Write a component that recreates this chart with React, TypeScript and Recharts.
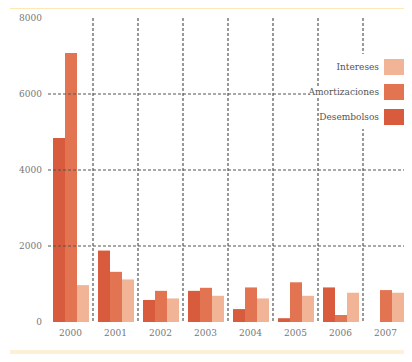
import React from "react";
import { BarChart, Bar, XAxis, YAxis, CartesianGrid, ReferenceLine } from "recharts";

const years = ["2000", "2001", "2002", "2003", "2004", "2005", "2006", "2007"];
const desembolsos = [4840, 1880, 580, 820, 340, 100, 910, 0];
const amortizaciones = [7080, 1320, 820, 900, 910, 1045, 185, 840];
const intereses = [970, 1120, 620, 690, 620, 690, 770, 770];
const yTicks = [0, 2000, 4000, 6000, 8000];
const gridValues = [2000, 4000, 6000];
const seriesNames = ["Desembolsos", "Amortizaciones", "Intereses"];
const seriesColors = ["#d95b3e", "#e37452", "#f1b496"];

const data = years.map((y, i) => ({
  year: y,
  Desembolsos: desembolsos[i],
  Amortizaciones: amortizaciones[i],
  Intereses: intereses[i],
}));

const FONT = "'DejaVu Serif', 'Liberation Serif', serif";

export default function App() {
  const legendItems = seriesNames.map((n, i) => ({ name: n, color: seriesColors[i] })).reverse();
  return (
    <div style={{ position: "relative", width: 412, height: 362, margin: -8, background: "#fff", overflow: "hidden" }}>
      <div style={{ position: "absolute", left: 10, top: 0, width: 402, height: 6, background: "#fdd784" }} />
      <div style={{ position: "absolute", left: 10, top: 6, width: 402, height: 3, background: "#fde8b6" }} />
      <div style={{ position: "absolute", left: 408, top: 9, width: 4, height: 353, background: "#fdf0d6" }} />
      <div style={{ position: "absolute", left: 10, top: 350, width: 402, height: 12, background: "#fdf0d6" }} />
      <div style={{ position: "absolute", left: 0, top: 0 }}>
        <BarChart
          width={412}
          height={362}
          data={data}
          margin={{ top: 18, right: 4, left: 0, bottom: 10 }}
          barCategoryGap={5}
          barGap={0}
        >
          <CartesianGrid
            horizontal={false}
            vertical={true}
            stroke="#555"
            strokeWidth={1.2}
            strokeDasharray="3 2"
            verticalCoordinatesGenerator={({ offset }: any) =>
              years.slice(1).map((_, i) => offset.left + (offset.width * (i + 1)) / years.length)
            }
          />
          {gridValues.map((v) => (
            <ReferenceLine key={v} y={v} stroke="#555" strokeWidth={1.2} strokeDasharray="3 2" />
          ))}
          <XAxis
            dataKey="year"
            axisLine={false}
            tickLine={false}
            tick={{ fontSize: 9, fill: "#777", fontFamily: FONT }}
          />
          <YAxis
            width={48}
            domain={[0, 8000]}
            ticks={yTicks}
            axisLine={false}
            tickLine={false}
            tickMargin={0}
            tick={{ fontSize: 9, fill: "#777", fontFamily: FONT }}
          />
          {seriesNames.map((n, i) => (
            <Bar key={n} dataKey={n} fill={seriesColors[i]} isAnimationActive={false} />
          ))}
        </BarChart>
      </div>
      <div style={{ position: "absolute", left: 328, top: 54, width: 78, background: "#fff", padding: "0" }}>
        {legendItems.map((it) => (
          <div
            key={it.name}
            style={{ display: "flex", alignItems: "center", justifyContent: "flex-end", height: 25 }}
          >
            <span
              style={{
                fontFamily: FONT,
                fontSize: 9,
                color: "#555",
                paddingRight: 5,
                whiteSpace: "nowrap",
                background: "#fff",
                flexShrink: 0,
              }}
            >
              {it.name}
            </span>
            <span style={{ display: "inline-block", width: 22, height: 16, background: it.color, flexShrink: 0 }} />
          </div>
        ))}
      </div>
    </div>
  );
}
